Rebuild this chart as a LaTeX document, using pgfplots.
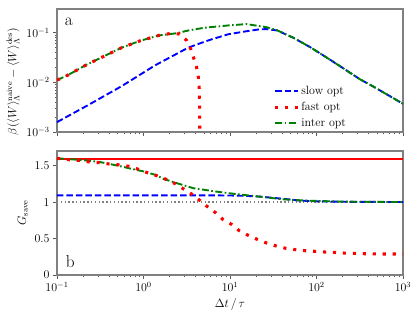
\documentclass[border=0pt]{standalone}
\usepackage{pgfplots}
\pgfplotsset{compat=1.18}
\definecolor{dgreen}{RGB}{0,128,0}
\begin{document}
\begin{tikzpicture}
\useasboundingbox (-57bp,9bp) rectangle (358bp,-303bp);
\pgfplotsset{
  every axis/.append style={
    scale only axis, width=346bp, xmode=log, xmin=0.1, xmax=1000,
    axis line style={gray, line width=1.2pt},
    tick style={gray!70!black, line width=0.7pt},
    tick align=outside, tick pos=left,
    major tick length=4pt, minor tick length=2.3pt,
    tick label style={font=\large},
    label style={font=\large},
    clip=true,
  },
  slowst/.style={blue, line width=1.9pt, dash pattern=on 6.5pt off 3pt},
  fastst/.style={red, line width=3.1pt, dash pattern=on 3.1pt off 6.9pt},
  interst/.style={dgreen, line width=1.9pt, dash pattern=on 7pt off 2.5pt on 1.6pt off 2.5pt},
}
\begin{axis}[at={(0,0)}, anchor=north west, height=123bp,
  ymode=log, ymin=1e-3, ymax=0.3,
  ytick={1e-3,1e-2,1e-1},
  xticklabels={},
  ylabel={$\beta\bigl(\langle W\rangle_\Lambda^{\mathrm{naive}} - \langle W\rangle_\Lambda^{\mathrm{des}}\bigr)$},
  ylabel style={at={(axis description cs:-0.127,0.41)}, anchor=center, inner sep=0pt},
  legend style={draw=none, fill=none, at={(0.85,0.0)}, anchor=south east, row sep=2.5pt, font=\large},
  legend cell align=left,
  legend image code/.code={\draw[#1] (0cm,0cm) -- (0.8cm,0cm);},
]
\addlegendimage{slowst}\addlegendentry{slow opt}
\addlegendimage{fastst}\addlegendentry{fast opt}
\addlegendimage{interst}\addlegendentry{inter opt}
\addplot[slowst, forget plot] coordinates {
(0.1,0.00158) (0.23,0.0035) (0.56,0.0084) (1.36,0.022) (3.29,0.050) (4.5,0.061)
(5.9,0.072) (9.55,0.093) (15,0.106) (22,0.117) (26.5,0.118) (35,0.111) (54,0.079)
(84,0.0515) (131,0.0316) (204,0.0192) (316,0.0116) (455,0.0082) (1000,0.0037)
};
\addplot[interst, forget plot] coordinates {
(0.1,0.0111) (0.134,0.014) (0.215,0.0222) (0.35,0.0336) (0.56,0.050) (0.9,0.068)
(1.5,0.088) (2.47,0.098) (3.3,0.111) (5.1,0.126) (9.55,0.140) (15.5,0.149)
(26.5,0.129) (35,0.112) (54,0.079) (84,0.0515) (131,0.0316) (204,0.0192)
(316,0.0116) (455,0.0082) (1000,0.0037)
};
\addplot[fastst, forget plot] coordinates {
(0.1,0.0111) (0.134,0.014) (0.215,0.0222) (0.35,0.0336) (0.56,0.050) (0.9,0.068)
(1.5,0.088) (2.1,0.097) (2.6,0.094) (3.15,0.070) (3.5,0.048) (3.77,0.0325)
(4.1,0.0205) (4.3,0.013) (4.4,0.0082) (4.44,0.004) (4.46,0.002) (4.47,0.0011)
};
\node[anchor=north west, font=\LARGE, inner sep=0pt] at (rel axis cs:0.022,0.93) {a};
\end{axis}
\begin{axis}[at={(0,-142bp)}, anchor=north west, height=124bp,
  ymin=0, ymax=1.7, ytick={0,0.5,1,1.5},
  yticklabels={0,0.5,1,1.5},
  xlabel={$\Delta t\,/\,\tau$},
  ylabel={$G_{\mathrm{save}}$},
]
\addplot[red, line width=2pt] coordinates {(0.1,1.595) (1000,1.595)};
\addplot[gray, line width=1.4pt, dash pattern=on 1.4pt off 2.4pt] coordinates {(0.1,1.0) (1000,1.0)};
\addplot[slowst] coordinates {
(0.1,1.092) (5,1.092) (10,1.09) (15,1.085) (22,1.075) (30,1.06) (41,1.045)
(65,1.02) (100,1.01) (200,1.004) (1000,1.0)
};
\addplot[interst] coordinates {
(0.1,1.60) (0.2,1.575) (0.31,1.55) (0.5,1.50) (0.7,1.46) (1,1.42) (1.4,1.37)
(1.68,1.32) (2.41,1.26) (3.77,1.19) (7,1.143) (12.2,1.107) (22.2,1.074)
(41,1.038) (77,1.019) (200,1.006) (1000,1.0)
};
\addplot[fastst] coordinates {
(0.1,1.60) (0.14,1.58) (0.185,1.57) (0.236,1.55) (0.31,1.54) (0.41,1.52)
(0.52,1.51) (0.68,1.49) (0.87,1.45) (1.12,1.40) (1.44,1.36) (1.84,1.31)
(2.35,1.25) (2.9,1.18) (3.6,1.11) (4.5,1.02) (5.3,0.95) (6.8,0.855) (8.3,0.76)
(10.4,0.695) (12.7,0.61) (16.2,0.545) (20.5,0.49) (26.3,0.44) (33.7,0.40)
(44,0.366) (57,0.347) (74,0.333) (95,0.325) (125,0.315) (160,0.31) (212,0.30)
(275,0.297) (355,0.292) (460,0.29) (600,0.288) (780,0.288) (1000,0.287)
};
\node[anchor=south west, font=\LARGE, inner sep=0pt] at (rel axis cs:0.025,0.06) {b};
\end{axis}
\end{tikzpicture}
\end{document}
